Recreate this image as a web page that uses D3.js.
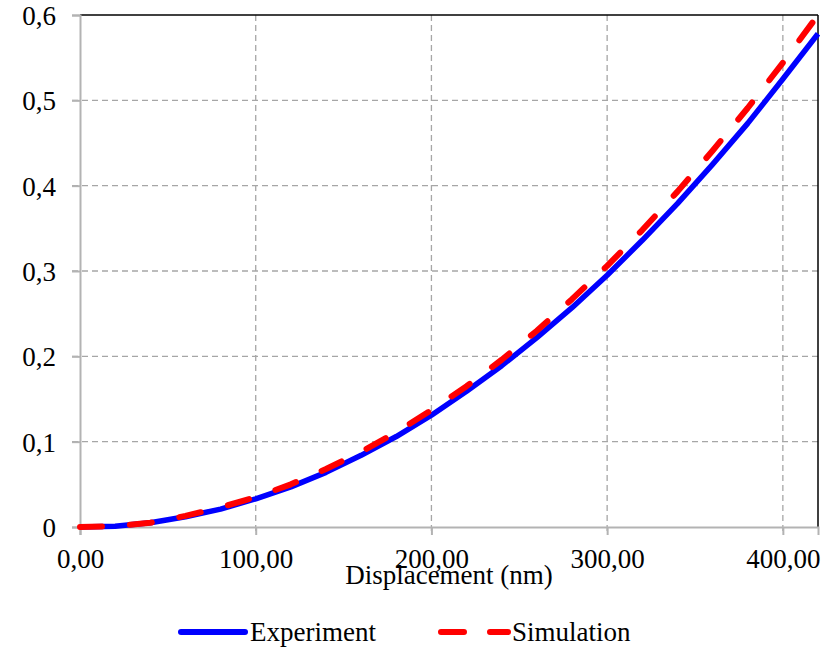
<!DOCTYPE html>
<html>
<head>
<meta charset="utf-8">
<title>Displacement</title>
<script src="https://d3js.org/d3.v7.min.js"></script>
<style>
  body { margin: 0; background: #fff; }
  svg text { font-family: "Liberation Serif", "Times New Roman", Tinos, "DejaVu Serif", serif !important; fill: #000; }
</style>
</head>
<body>
<script>
// displacement (nm)
var displacement = [0, 20, 40, 60, 80, 100, 120, 140, 160, 180, 200, 220, 240, 260, 280, 300, 320, 340, 360, 380, 400, 420];
// values
var experiment = [0, 0.001, 0.005, 0.012, 0.021, 0.033, 0.047, 0.064, 0.084, 0.106, 0.131, 0.159, 0.189, 0.222, 0.257, 0.295, 0.336, 0.379, 0.425, 0.473, 0.525, 0.578];
var simulation = [0, 0.001, 0.005, 0.013, 0.023, 0.035, 0.050, 0.068, 0.088, 0.111, 0.137, 0.165, 0.196, 0.230, 0.267, 0.306, 0.348, 0.393, 0.441, 0.491, 0.544, 0.600];
var xTicks = [0, 100, 200, 300, 400];
var yTicks = [0, 0.1, 0.2, 0.3, 0.4, 0.5, 0.6];
var seriesNames = ["Experiment", "Simulation"];

var W = 839, H = 647;
var m = {left: 80, right: 21, top: 15, bottom: 120};
var fs = "27px";

var svg = d3.select("body").append("svg")
  .attr("width", W).attr("height", H);

var x = d3.scaleLinear().domain([0, 420]).range([m.left, W - m.right]);
var y = d3.scaleLinear().domain([0, 0.6]).range([H - m.bottom, m.top]);

var comma = function(v, n) { return v.toFixed(n).replace(".", ","); };

// gridlines
svg.append("g").selectAll("line").data(yTicks.slice(1, -1)).enter().append("line")
  .attr("x1", m.left - 8).attr("x2", W - m.right)
  .attr("y1", d => y(d)).attr("y2", d => y(d))
  .attr("stroke", "#a6a6a6").attr("stroke-width", 1.3).attr("stroke-dasharray", "6,4");
svg.append("g").selectAll("line").data(xTicks.slice(1)).enter().append("line")
  .attr("x1", d => x(d)).attr("x2", d => x(d))
  .attr("y1", m.top).attr("y2", H - m.bottom + 8)
  .attr("stroke", "#a6a6a6").attr("stroke-width", 1.3).attr("stroke-dasharray", "6,4");

// frame: top and right black
svg.append("line").attr("x1", m.left).attr("x2", W - m.right).attr("y1", m.top).attr("y2", m.top)
  .attr("stroke", "#000").attr("stroke-width", 1.5);
svg.append("line").attr("x1", W - m.right).attr("x2", W - m.right).attr("y1", m.top).attr("y2", H - m.bottom)
  .attr("stroke", "#000").attr("stroke-width", 1.5);

// axes
var yAxis = svg.append("g").attr("transform", "translate(" + m.left + ",0)")
  .call(d3.axisLeft(y).tickValues(yTicks).tickSize(8).tickPadding(16)
    .tickFormat(d => d === 0 ? "0" : comma(d, 1)));
var xAxis = svg.append("g").attr("transform", "translate(0," + (H - m.bottom) + ")")
  .call(d3.axisBottom(x).tickValues(xTicks).tickSize(8).tickPadding(14)
    .tickFormat(d => comma(d, 2)));
[xAxis, yAxis].forEach(function(g) {
  g.attr("font-family", null).attr("font-size", null);
  g.select(".domain").attr("stroke", "#b3b3b3").attr("stroke-width", 2);
  g.selectAll(".tick line").attr("stroke", "#b3b3b3").attr("stroke-width", 2);
  g.selectAll("text").style("font-size", fs);
});
yAxis.selectAll("text").attr("dy", "0.35em");
xAxis.selectAll("text").attr("dy", "0.7em");

svg.append("text").attr("x", x(210)).attr("y", 584)
  .attr("text-anchor", "middle").style("font-size", fs).text("Displacement (nm)");

// lines
var lineExp = d3.line().x((d, i) => x(displacement[i])).y(d => y(d));
svg.append("path").datum(experiment).attr("d", lineExp)
  .attr("fill", "none").attr("stroke", "#0000ff").attr("stroke-width", 5.5)
  .attr("stroke-linejoin", "round");
svg.append("path").datum(simulation).attr("d", lineExp)
  .attr("fill", "none").attr("stroke", "#ff0000").attr("stroke-width", 6)
  .attr("stroke-linecap", "round").attr("stroke-linejoin", "round")
  .attr("stroke-dasharray", "22,28");

// legend
var lg = svg.append("g");
lg.append("line").attr("x1", 181).attr("x2", 245).attr("y1", 632).attr("y2", 632)
  .attr("stroke", "#0000ff").attr("stroke-width", 6).attr("stroke-linecap", "round");
lg.append("text").attr("x", 250).attr("y", 641).style("font-size", fs).text(seriesNames[0]);
lg.append("line").attr("x1", 441).attr("x2", 508).attr("y1", 632).attr("y2", 632)
  .attr("stroke", "#ff0000").attr("stroke-width", 6).attr("stroke-linecap", "round")
  .attr("stroke-dasharray", "23,26");
lg.append("text").attr("x", 512).attr("y", 641).style("font-size", fs).text(seriesNames[1]);
</script>
</body>
</html>
